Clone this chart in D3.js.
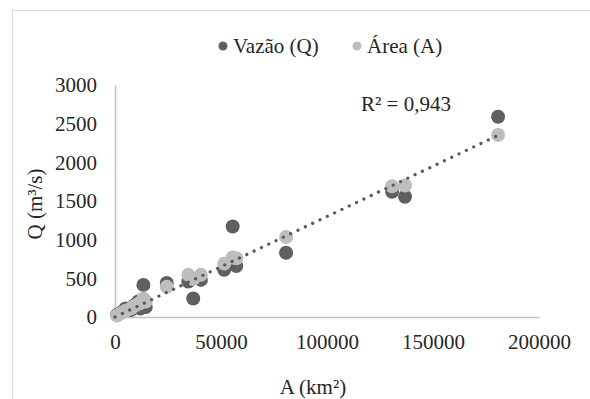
<!DOCTYPE html>
<html>
<head>
<meta charset="utf-8">
<script src="https://cdn.jsdelivr.net/npm/d3@7"></script>
<style>
  body { margin: 0; background: #fff; }
  svg text { font-family: "Times New Roman", "Liberation Serif", "DejaVu Serif", serif !important; fill: #262626; }
</style>
</head>
<body>
<div id="chart"></div>
<script>
// station drainage area (km²), observed discharge and discharge estimated from area
const area  = [180700, 130700, 136800, 80700, 55500, 57200, 51500, 34600, 40500, 36900, 24400, 13400, 14500, 12000, 11000, 9000, 7500, 5000, 3000, 1000];
const vazao = [2590, 1620, 1555, 830, 1170, 660, 610, 460, 480, 240, 440, 415, 130, 110, 200, 150, 90, 110, 60, 30];
const areaQ = [2355, 1690, 1700, 1035, 770, 760, 690, 545, 545, 490, 390, 240, 200, 180, 170, 140, 110, 80, 50, 20];
const xTicks = [0, 50000, 100000, 150000, 200000];
const yTicks = [0, 500, 1000, 1500, 2000, 2500, 3000];
const trend = [0.0130, 0]; // slope, intercept
const r2Label = "R² = 0,943";

const W = 590, H = 399;
const svg = d3.select('#chart').append('svg')
  .attr('width', W).attr('height', H);

// outer chart border (only left/top visible)
svg.append('rect')
  .attr('x', 12.5).attr('y', 10.5)
  .attr('width', 620).attr('height', 420)
  .attr('fill', 'none').attr('stroke', '#d9d9d9');

const x = d3.scaleLinear().domain([0, 200000]).range([115, 539]);
const y = d3.scaleLinear().domain([0, 3000]).range([317, 85]);

const xAxis = svg.append('g')
  .attr('transform', 'translate(0,317)')
  .call(d3.axisBottom(x).tickValues(xTicks).tickSize(0).tickPadding(17).tickFormat(d3.format('d')));
const yAxis = svg.append('g')
  .attr('transform', 'translate(115,0)')
  .call(d3.axisLeft(y).tickValues(yTicks).tickSize(0).tickPadding(18).tickFormat(d3.format('d')));

[xAxis, yAxis].forEach(g => {
  g.attr('font-family', null);
  g.select('.domain').attr('stroke', '#bfbfbf').attr('stroke-width', 1.5);
  g.selectAll('text').style('font-size', '21px').attr('fill', '#262626');
});

const pts = area.map((a, i) => ({a: a, q: vazao[i], e: areaQ[i]}));

svg.append('g').selectAll('circle')
  .data(pts).enter().append('circle')
  .attr('cx', d => x(d.a)).attr('cy', d => y(d.q))
  .attr('r', 7).attr('fill', '#5f5f5f');

svg.append('g').selectAll('circle')
  .data(pts).enter().append('circle')
  .attr('cx', d => x(d.a)).attr('cy', d => y(d.e))
  .attr('r', 7).attr('fill', '#bdbdbd');

// dotted linear trend line
const maxA = d3.max(area);
svg.append('line')
  .attr('x1', x(0)).attr('y1', y(trend[1]))
  .attr('x2', x(maxA)).attr('y2', y(trend[0] * maxA + trend[1]))
  .attr('stroke', '#5a5a5a').attr('stroke-width', 3.2)
  .attr('stroke-linecap', 'round')
  .attr('stroke-dasharray', '0.1 8');

svg.append('text')
  .attr('x', 361).attr('y', 111)
  .style('font-size', '21px')
  .text(r2Label);

// legend
const legend = [
  {label: 'Vazão (Q)', color: '#5f5f5f', x: 223},
  {label: 'Área (A)', color: '#bdbdbd', x: 357}
];
const lg = svg.append('g').selectAll('g').data(legend).enter().append('g');
lg.append('circle')
  .attr('cx', d => d.x).attr('cy', 46).attr('r', 4.5)
  .attr('fill', d => d.color);
lg.append('text')
  .attr('x', d => d.x + 10).attr('y', 53)
  .style('font-size', '21px')
  .text(d => d.label);

// axis titles
svg.append('text')
  .attr('x', 313).attr('y', 394)
  .attr('text-anchor', 'middle')
  .style('font-size', '21px')
  .text('A (km²)');
svg.append('text')
  .attr('transform', 'translate(42,204) rotate(-90)')
  .attr('text-anchor', 'middle')
  .style('font-size', '21px')
  .text('Q (m³/s)');
</script>
</body>
</html>
